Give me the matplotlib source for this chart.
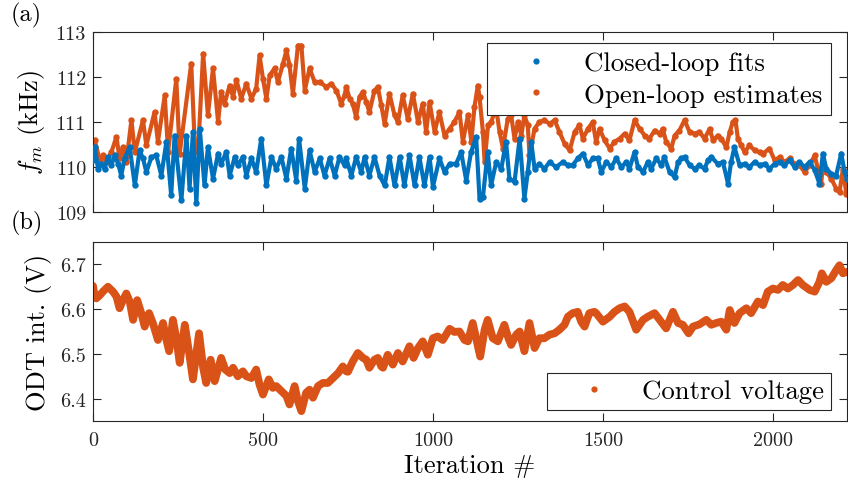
import matplotlib
matplotlib.use("Agg")
import matplotlib.pyplot as plt
from matplotlib.lines import Line2D

# ---------------- data ----------------
iter_closed = [0, 5, 15, 25, 34, 44, 54, 64, 74, 83, 93, 108, 123, 137, 147, 157, 172, 186, 201, 216,
               230, 240, 260, 275, 284, 294, 304, 314, 328, 338, 353, 368, 377, 392, 402, 417, 426, 441,
               451, 466, 480, 495, 510, 525, 539, 554, 569, 583, 598, 606, 623, 637, 652, 667, 681, 696,
               711, 725, 740, 745, 760, 774, 789, 799, 813, 828, 843, 858, 872, 887, 902, 916, 931, 946,
               960, 975, 990, 1000, 1019, 1034, 1049, 1068, 1083, 1098, 1112, 1127, 1137, 1147, 1161,
               1171, 1186, 1201, 1215, 1225, 1240, 1255, 1269, 1279, 1289, 1299, 1313, 1328, 1343, 1362,
               1382, 1397, 1411, 1426, 1441, 1456, 1470, 1485, 1495, 1510, 1525, 1539, 1554, 1569, 1578,
               1593, 1603, 1618, 1632, 1642, 1657, 1672, 1681, 1696, 1711, 1721, 1730, 1740, 1755, 1770,
               1784, 1799, 1809, 1819, 1838, 1853, 1868, 1877, 1887, 1902, 1917, 1931, 1946, 1961, 1976,
               1990, 2005, 2020, 2034, 2049, 2064, 2078, 2093, 2108, 2123, 2137, 2147, 2157, 2172, 2186,
               2201, 2211, 2218]
f_closed = [110.15, 110.44, 109.96, 110.07, 109.96, 110.22, 110.04, 110.26, 110.07, 109.81, 110.19, 110.44,
            109.59, 110.37, 110.19, 109.89, 110.22, 110.26, 109.81, 110.56, 109.37, 110.70, 109.26, 110.70,
            109.52, 110.78, 109.19, 110.85, 109.59, 110.44, 109.74, 110.30, 110.07, 110.33, 109.81, 110.22,
            110.04, 110.22, 109.81, 110.19, 109.89, 110.63, 109.59, 110.22, 109.96, 110.22, 109.74, 110.41,
            109.70, 110.63, 109.52, 110.37, 109.89, 110.19, 109.81, 110.19, 109.81, 110.22, 110.04, 110.19,
            109.81, 110.22, 109.89, 110.22, 109.81, 110.22, 109.81, 109.59, 110.22, 109.59, 110.22, 109.59,
            110.26, 109.59, 110.22, 109.59, 110.22, 109.56, 110.19, 109.89, 110.07, 110.07, 110.33, 109.70,
            110.33, 110.67, 109.30, 109.33, 110.33, 109.59, 110.11, 109.96, 110.56, 109.74, 109.67, 110.63,
            109.30, 109.89, 110.56, 109.96, 110.07, 109.96, 110.11, 110.00, 110.11, 110.04, 110.04, 110.19,
            110.30, 110.04, 110.19, 110.19, 109.89, 110.11, 110.00, 110.19, 110.00, 110.11, 109.96, 110.33,
            110.00, 109.89, 110.11, 109.96, 110.19, 110.04, 110.22, 109.89, 109.78, 110.11, 110.19, 110.22,
            110.04, 109.96, 110.04, 109.96, 110.15, 110.22, 110.07, 110.11, 109.63, 110.11, 110.44, 110.04,
            110.07, 110.00, 110.11, 110.04, 110.07, 109.96, 110.07, 110.11, 110.04, 110.15, 110.00, 110.11,
            110.00, 110.11, 109.93, 109.63, 110.30, 109.96, 109.85, 109.81, 110.30, 109.89, 109.74]

iter_open = [0, 5, 20, 29, 39, 54, 69, 78, 88, 98, 113, 123, 147, 157, 181, 191, 211, 221, 245, 255, 289,
             299, 309, 324, 338, 353, 368, 377, 387, 402, 412, 422, 436, 451, 466, 480, 490, 500, 510, 520,
             534, 544, 559, 569, 578, 588, 603, 613, 623, 637, 652, 667, 686, 701, 716, 730, 740, 745, 755,
             764, 774, 784, 794, 804, 813, 828, 838, 848, 858, 872, 887, 897, 911, 926, 941, 956, 970, 980,
             990, 1005, 1019, 1034, 1049, 1063, 1078, 1088, 1103, 1113, 1122, 1132, 1137, 1147, 1152, 1162,
             1171, 1186, 1196, 1206, 1220, 1230, 1240, 1250, 1260, 1269, 1279, 1284, 1299, 1313, 1328, 1343,
             1358, 1372, 1387, 1402, 1417, 1431, 1441, 1456, 1470, 1480, 1490, 1505, 1520, 1534, 1549, 1564,
             1578, 1593, 1608, 1623, 1637, 1652, 1667, 1676, 1686, 1701, 1711, 1725, 1740, 1755, 1770, 1784,
             1799, 1814, 1824, 1838, 1848, 1863, 1873, 1882, 1890, 1897, 1907, 1917, 1931, 1946, 1961, 1971,
             1990, 2005, 2020, 2034, 2049, 2064, 2078, 2093, 2108, 2123, 2132, 2142, 2147, 2157, 2172, 2186,
             2196, 2206, 2216]
f_open = [110.44, 110.59, 110.15, 110.26, 110.11, 110.33, 110.67, 110.19, 110.44, 110.11, 111.04, 110.33,
          111.04, 110.48, 111.22, 110.56, 111.59, 110.33, 111.96, 110.30, 112.30, 110.56, 110.33, 112.52,
          111.15, 112.19, 111.00, 111.67, 111.41, 111.81, 111.56, 111.93, 111.52, 111.85, 111.52, 111.74,
          112.48, 111.96, 111.52, 112.04, 112.19, 111.89, 112.30, 112.59, 112.26, 111.63, 112.70, 112.70,
          111.70, 112.19, 111.89, 111.89, 111.78, 111.85, 111.70, 111.41, 111.59, 111.78, 111.52, 111.41,
          111.11, 111.56, 111.67, 111.44, 111.22, 111.70, 111.78, 111.37, 110.96, 111.63, 111.15, 111.00,
          111.59, 111.07, 111.63, 111.00, 111.41, 110.78, 111.44, 110.78, 111.22, 110.70, 110.85, 111.00,
          111.22, 110.56, 111.15, 110.56, 111.33, 111.81, 111.56, 110.78, 110.11, 110.93, 111.00, 111.30,
          110.78, 110.41, 111.07, 111.15, 110.63, 111.00, 110.70, 111.15, 110.93, 110.26, 110.85, 111.00,
          111.04, 110.96, 111.04, 110.78, 110.52, 110.37, 110.78, 110.93, 110.63, 110.85, 111.00, 110.56,
          110.85, 110.59, 110.41, 110.56, 110.63, 110.74, 110.59, 111.04, 110.85, 110.70, 110.63, 110.81,
          110.74, 110.85, 110.56, 110.41, 110.70, 110.81, 111.04, 110.78, 110.74, 110.78, 110.63, 110.85,
          110.59, 110.70, 110.63, 110.44, 110.78, 111.00, 111.04, 110.63, 110.48, 110.33, 110.48, 110.37,
          110.33, 110.30, 110.41, 110.15, 110.22, 110.11, 110.19, 110.07, 110.04, 109.89, 110.04, 110.26,
          109.96, 109.63, 110.04, 109.89, 109.74, 109.52, 109.44, 109.96, 109.41]

iter_ctrl = [0, 5, 10, 20, 29, 44, 59, 69, 78, 88, 98, 108, 118, 130, 142, 152, 165, 176, 191, 206, 216,
             224, 235, 245, 255, 270, 282, 294, 312, 324, 333, 346, 358, 377, 389, 402, 412, 426, 441, 451,
             466, 480, 490, 500, 517, 529, 539, 554, 569, 578, 593, 603, 613, 627, 637, 647, 662, 676, 691,
             706, 721, 735, 745, 750, 764, 779, 794, 804, 813, 828, 838, 848, 853, 867, 882, 897, 911, 931,
             943, 956, 970, 985, 1000, 1014, 1029, 1049, 1063, 1078, 1093, 1103, 1117, 1127, 1139, 1152,
             1161, 1176, 1191, 1210, 1222, 1230, 1245, 1255, 1269, 1284, 1299, 1313, 1328, 1343, 1358, 1372,
             1387, 1397, 1411, 1426, 1436, 1446, 1460, 1475, 1480, 1500, 1520, 1534, 1549, 1564, 1578, 1598,
             1618, 1632, 1652, 1667, 1686, 1706, 1721, 1735, 1752, 1765, 1784, 1804, 1819, 1833, 1848, 1863,
             1873, 1887, 1902, 1922, 1936, 1956, 1971, 1985, 2000, 2015, 2029, 2044, 2059, 2074, 2088, 2108,
             2123, 2137, 2144, 2157, 2172, 2186, 2196, 2206, 2216]
volt_ctrl = [6.652, 6.628, 6.624, 6.631, 6.639, 6.650, 6.639, 6.628, 6.602, 6.620, 6.635, 6.617, 6.576,
             6.620, 6.591, 6.561, 6.591, 6.569, 6.531, 6.569, 6.531, 6.506, 6.576, 6.535, 6.480, 6.565,
             6.506, 6.443, 6.546, 6.469, 6.435, 6.487, 6.439, 6.491, 6.465, 6.457, 6.469, 6.450, 6.461,
             6.450, 6.446, 6.465, 6.431, 6.409, 6.443, 6.424, 6.428, 6.417, 6.406, 6.387, 6.428, 6.394,
             6.372, 6.413, 6.420, 6.402, 6.428, 6.435, 6.435, 6.446, 6.457, 6.472, 6.461, 6.460, 6.483,
             6.502, 6.491, 6.487, 6.469, 6.487, 6.491, 6.472, 6.469, 6.498, 6.476, 6.502, 6.483, 6.517,
             6.491, 6.513, 6.528, 6.498, 6.535, 6.539, 6.531, 6.556, 6.549, 6.550, 6.531, 6.528, 6.569,
             6.535, 6.494, 6.554, 6.576, 6.535, 6.528, 6.565, 6.535, 6.520, 6.543, 6.550, 6.506, 6.569,
             6.513, 6.535, 6.535, 6.543, 6.546, 6.554, 6.565, 6.583, 6.591, 6.594, 6.572, 6.561, 6.591,
             6.594, 6.591, 6.572, 6.583, 6.594, 6.602, 6.606, 6.594, 6.554, 6.576, 6.583, 6.591, 6.576,
             6.557, 6.594, 6.569, 6.565, 6.546, 6.561, 6.566, 6.576, 6.565, 6.569, 6.572, 6.554, 6.598,
             6.569, 6.591, 6.602, 6.591, 6.617, 6.609, 6.639, 6.646, 6.643, 6.654, 6.646, 6.654, 6.665,
             6.654, 6.643, 6.639, 6.661, 6.680, 6.661, 6.669, 6.687, 6.698, 6.680, 6.683]

xticks = [0, 500, 1000, 1500, 2000]
yticks_top = [109, 110, 111, 112, 113]
yticks_bot = [6.4, 6.5, 6.6, 6.7]
ytick_labels_bot = ["6.4", "6.5", "6.6", "6.7"]

BLUE = "#0072BD"
ORANGE = "#D95319"
AXC = "#262626"

plt.rcParams.update({
    "font.family": "serif",
    "font.serif": ["cmr10", "DejaVu Serif"],
    "mathtext.fontset": "cm",
    "axes.formatter.use_mathtext": True,
    "axes.unicode_minus": False,
})

fig = plt.figure(figsize=(8.48, 4.85), dpi=100)
W, H = 848, 485
ax1 = fig.add_axes([93 / W, 1 - 213 / H, 754 / W, 180 / H])
ax2 = fig.add_axes([93 / W, 1 - 422 / H, 754 / W, 179 / H])

# top panel
ax1.plot(iter_closed, f_closed, color=BLUE, lw=3.0, marker="o", ms=4.6, mew=0, zorder=3,
         solid_joinstyle="round")
ax1.plot(iter_open, f_open, color=ORANGE, lw=3.0, marker="o", ms=4.6, mew=0, zorder=2,
         solid_joinstyle="round")
ax1.set_xlim(0, 2218)
ax1.set_ylim(109, 113)
ax1.set_xticks(xticks)
ax1.set_xticklabels([])
ax1.set_yticks(yticks_top)
ax1.set_yticklabels([str(v) for v in yticks_top])
ax1.set_ylabel(r"$f_m$ (kHz)", fontsize=19, labelpad=6)

# bottom panel
ax2.plot(iter_ctrl, volt_ctrl, color=ORANGE, lw=5.6, solid_capstyle="round",
         solid_joinstyle="round", zorder=2)
ax2.set_xlim(0, 2218)
ax2.set_ylim(6.35, 6.75)
ax2.set_xticks(xticks)
ax2.set_xticklabels([str(v) for v in xticks])
ax2.set_yticks(yticks_bot)
ax2.set_yticklabels(ytick_labels_bot)
ax2.set_ylabel("ODT int. (V)", fontsize=19, labelpad=6)
ax2.set_xlabel("Iteration #", fontsize=19, labelpad=3)

for ax in (ax1, ax2):
    for s in ax.spines.values():
        s.set_color(AXC)
        s.set_linewidth(0.8)
    ax.tick_params(direction="in", length=6, width=0.8, colors=AXC, labelsize=14.5,
                   top=True, right=True, labelcolor=AXC)
    ax.tick_params(axis="y", pad=5)
    ax.tick_params(axis="x", pad=7)

LEG_FS = 19.3
h_closed = Line2D([], [], color=BLUE, marker="o", ms=4.5, mew=0, ls="none")
h_open = Line2D([], [], color=ORANGE, marker="o", ms=4.5, mew=0, ls="none")
leg1 = ax1.legend([h_closed, h_open], ["Closed-loop fits", "Open-loop estimates"],
                  loc="upper right", bbox_to_anchor=(0.979, 0.939), fontsize=LEG_FS,
                  frameon=True, fancybox=False, edgecolor=AXC, framealpha=1,
                  handlelength=3.0, handletextpad=0.3, borderpad=0.32, labelspacing=0.28,
                  borderaxespad=0)
leg1.get_frame().set_linewidth(0.8)
leg1.set_zorder(10)

h_ctrl = Line2D([], [], color=ORANGE, marker="o", ms=4.5, mew=0, ls="none")
leg2 = ax2.legend([h_ctrl], ["Control voltage"], loc="lower right",
                  bbox_to_anchor=(0.979, 0.061), fontsize=LEG_FS, frameon=True, fancybox=False,
                  edgecolor=AXC, framealpha=1, handlelength=3.0, handletextpad=0.3,
                  borderpad=0.25, borderaxespad=0)
leg2.get_frame().set_linewidth(0.8)

fig.text(0.012, 0.995, "(a)", fontsize=17.5, va="top", ha="left", color="black")
fig.text(0.012, 1 - 211 / H, "(b)", fontsize=17.5, va="top", ha="left", color="black")

fig.savefig("out.png", dpi=100)
